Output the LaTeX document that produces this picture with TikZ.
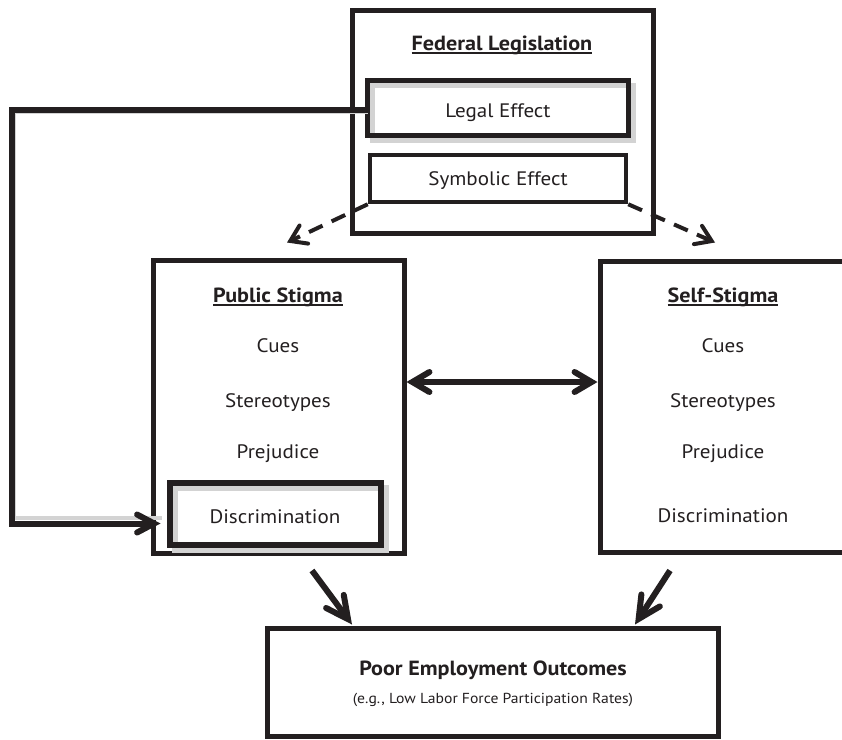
\documentclass[tikz,border=0pt]{standalone}
\usepackage{fontspec}
\setmainfont{PT Sans}[FakeStretch=1.08]
\usetikzlibrary{arrows.meta}
\newcommand\myul[1]{\setbox0\hbox{#1}\rlap{\vrule height -2.2pt depth 3.8pt width \wd0}\box0}
\definecolor{ink}{HTML}{231F20}
\definecolor{shade}{HTML}{D3D3D3}
\tikzset{
  box/.style={draw=ink, line width=5pt, rectangle, inner sep=0pt},
  lbl/.style={text=ink, font=\fontsize{19.5}{22}\selectfont, inner sep=0pt, anchor=base},
  ttl/.style={text=ink, font=\fontsize{20.5}{23}\selectfont\bfseries, inner sep=0pt, anchor=base},
  shadowline/.style={draw=shade, line width=6pt},
  conn/.style={draw=ink, line width=6pt, line join=miter},
  barbA/.style={-{Straight Barb[length=17pt,width=18pt,line cap=round]}},
  barbB/.style={{Straight Barb[length=17pt,width=20pt,line cap=round]}-{Straight Barb[length=17pt,width=20pt,line cap=round]}},
  barbC/.style={-{Straight Barb[length=22pt,width=22pt,line cap=round]}},
  dashconn/.style={draw=ink, line width=4pt, dash pattern=on 15pt off 10pt,
    -{Straight Barb[length=15pt,width=20pt,line cap=round]}},
}
\begin{document}
\begin{tikzpicture}[x=1pt,y=-1pt]
\useasboundingbox (0,0) rectangle (842,739);
\clip (0,0) rectangle (842,739);
\fill[white] (0,0) rectangle (842,739);

% boxes
\node[box, minimum width=301pt, minimum height=223pt] (fed) at (502.5,121.5) {};
\node[box, draw=none, minimum width=256pt, minimum height=50pt] (legal) at (498,108) {};
\node[box, line width=4.5pt, minimum width=256pt, minimum height=47pt] (symb) at (498,178.5) {};
\node[box, minimum width=251pt, minimum height=293pt] (pub) at (278.5,406.5) {};
\node[box, minimum width=246pt, minimum height=291pt] (self) at (723,406.5) {};
\node[box, draw=none, minimum width=206pt, minimum height=57pt] (disc) at (275,513.5) {};
\node[box, minimum width=451pt, minimum height=108pt] (poor) at (492.5,682) {};

% shadows
\draw[shadowline, line width=5.5pt] ([shift={(5,5)}]legal.south west) rectangle ([shift={(5,5)}]legal.north east);
\draw[shadowline] ([shift={(5,5)}]disc.south west) rectangle ([shift={(5,5)}]disc.north east);
\draw[draw=ink, line width=5.5pt] (legal.south west) rectangle (legal.north east);
\draw[draw=ink, line width=6pt] (disc.south west) rectangle (disc.north east);

% texts
\node[ttl] (tfed) at (502,50) {\myul{Federal Legislation}};
\node[lbl] (tlegal) at (498,117) {Legal Effect};
\node[lbl] (tsymb) at (498,185) {Symbolic Effect};

\node[ttl] (tpub) at (278,302) {\myul{Public Stigma}};
\node[lbl] (pcues) at (278,352) {Cues};
\node[lbl] (pster) at (278,407) {Stereotypes};
\node[lbl] (pprej) at (278,458) {Prejudice};
\node[lbl] (pdisc) at (275,523) {Discrimination};

\node[ttl] (tself) at (723,302) {\myul{Self-Stigma}};
\node[lbl] (scues) at (723,352) {Cues};
\node[lbl] (sster) at (723,407) {Stereotypes};
\node[lbl] (sprej) at (723,458) {Prejudice};
\node[lbl] (sdisc) at (723,522) {Discrimination};

\node[ttl] (tpoor) at (493,675) {Poor Employment Outcomes};
\node[lbl, font=\fontsize{14.5}{17}\selectfont] (tpoorsub) at (493,703) {(e.g., Low Labor Force Participation Rates)};

% connector legal -> discrimination
\coordinate (lft) at (12,0);
\draw[shadowline, line width=4pt] ([shift={(0,4)}]legal.west) -- ([shift={(2,4)}]legal.west -| lft) |- ([shift={(-8,4)}]disc.west);
\draw[conn, barbA] ([yshift=-2pt]legal.west) -- ([yshift=-2pt]legal.west -| lft) |- ([xshift=-9pt,yshift=-10pt]disc.west);

% double arrow
\draw[conn, barbB] ([yshift=24.5pt]pub.east) -- ([yshift=24.5pt]self.west);

% down arrows
\draw[conn, barbC] ([shift={(33.5,15)}]pub.south) -- ([shift={(-140.5,-1)}]poor.north);
\draw[conn, barbC] ([shift={(-53,16)}]self.south) -- ([shift={(142.5,-1)}]poor.north);

% dashed arrows
\draw[dashconn] (symb.south west) -- ([shift={(8.5,-15)}]pub.north);
\draw[dashconn] (symb.south east) -- ([shift={(-8,-16)}]self.north);
\end{tikzpicture}
\end{document}
